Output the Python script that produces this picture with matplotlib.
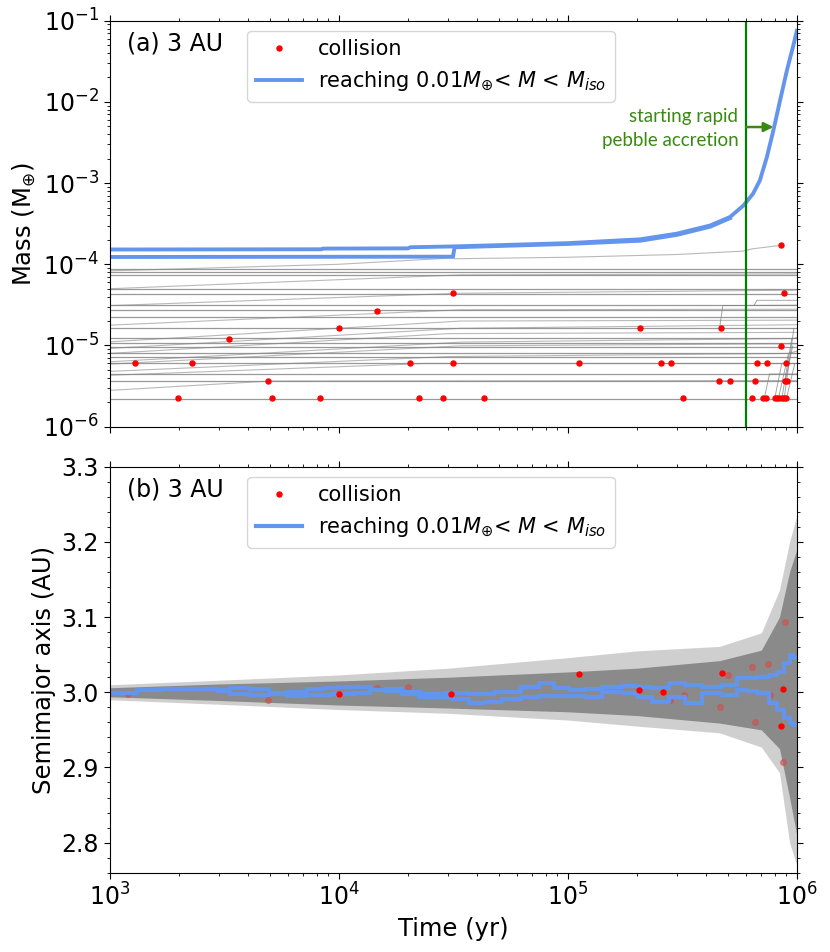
import numpy as np
import matplotlib
matplotlib.use('Agg')
import matplotlib.pyplot as plt
from matplotlib.ticker import MultipleLocator, NullFormatter

plt.rcParams['font.family'] = ['DejaVu Sans']
plt.rcParams['mathtext.fontset'] = 'dejavusans'

# ---- panel (a): mass tracks of planetesimals ----
# slowly growing tracks
grow_t = [
    [1e3, 5e3, 1e6],
    [1e3, 2.4e4, 1e6],
    [1e3, 3e4, 1e6],
    [1e3, 3.4e4, 1e6],
    [1e3, 3.4e4, 1e6],
    [1e3, 3e4, 1e6],
    [1e3, 3.4e4, 1e6],
    [1e3, 3.4e4, 1e6],
    [1e3, 3.4e4, 1e6],
    [1e3, 3.4e4, 1e6],
    [1e3, 3.4e4, 1e6],
    [1e3, 1e4, 3.2e4],
    [3.2e4, 1e5, 3e5, 5.8e5, 6.4e5, 8.5e5],
]
grow_m = [
    [2.8e-6, 3.65e-6, 3.7e-6],
    [4.3e-6, 6.0e-6, 6.0e-6],
    [4.8e-6, 7.3e-6, 8.0e-6],
    [5.9e-6, 9.9e-6, 1.05e-5],
    [6.3e-6, 1.1e-5, 1.22e-5],
    [8.0e-6, 1.4e-5, 1.45e-5],
    [9.2e-6, 1.63e-5, 1.8e-5],
    [1.11e-5, 2.0e-5, 2.05e-5],
    [1.78e-5, 2.75e-5, 2.8e-5],
    [3.1e-5, 4.4e-5, 4.8e-5],
    [5.0e-5, 7.4e-5, 7.6e-5],
    [8.3e-5, 1.0e-4, 1.2e-4],
    [1.17e-4, 1.22e-4, 1.32e-4, 1.45e-4, 1.55e-4, 1.71e-4],
]
# flat tracks (mass constant over the run)
flat_m = [8.8e-5, 8.1e-5, 7.3e-5, 5.0e-5, 4.36e-5, 3.13e-5, 2.72e-5, 2.24e-5,
          1.62e-5, 1.22e-5, 1.08e-5, 9.7e-6, 8.0e-6, 7.3e-6, 6.0e-6, 4.45e-6,
          3.65e-6, 2.2e-6]
# late, steep merging tracks
late_t = [
    [7.2e5, 7.6e5, 1e6],
    [8.0e5, 8.6e5, 1e6],
    [8.3e5, 9.2e5, 1e6],
    [8.6e5, 9.5e5, 1e6],
    [8.8e5, 9.7e5],
    [9.0e5, 9.8e5],
    [8.9e5, 9.6e5],
    [4.6e5, 4.75e5, 1e6],
    [6.5e5, 6.7e5, 1e6],
]
late_m = [
    [2.2e-6, 4.45e-6, 4.45e-6],
    [2.2e-6, 6.0e-6, 6.0e-6],
    [2.2e-6, 8e-6, 8.5e-6],
    [2.2e-6, 1.2e-5, 1.25e-5],
    [2.2e-6, 1.6e-5],
    [2.2e-6, 6e-6],
    [3.65e-6, 9.9e-6],
    [1.64e-5, 3.1e-5, 3.13e-5],
    [3.1e-5, 3.6e-5, 3.6e-5],
]

# blue: the two bodies reaching 0.01 M_earth < M < M_iso
blue1_t = [1e3, 8.4e3, 8.5e3, 2.0e4, 2.05e4, 3.2e4, 5e4, 1e5, 2.07e5, 2.99e5,
           4.18e5, 5.11e5, 5.85e5, 6.44e5, 6.9e5, 7.4e5, 7.9e5, 8.45e5, 9.05e5,
           9.7e5, 1e6]
blue1_m = [1.52e-4, 1.53e-4, 1.56e-4, 1.57e-4, 1.62e-4, 1.66e-4, 1.72e-4,
           1.82e-4, 2.03e-4, 2.38e-4, 3.0e-4, 3.82e-4, 5.3e-4, 7.4e-4, 1.08e-3,
           2.09e-3, 4.45e-3, 1.04e-2, 2.43e-2, 5.2e-2, 7.5e-2]
blue2_t = [1e3, 3.15e4, 3.2e4, 5e4, 1e5, 2.07e5, 2.99e5, 4.18e5, 5.11e5]
blue2_m = [1.23e-4, 1.24e-4, 1.62e-4, 1.68e-4, 1.78e-4, 1.95e-4, 2.3e-4,
           2.9e-4, 3.7e-4]

coll_t = [1.29e3, 1.98e3, 2.28e3, 3.31e3, 4.9e3, 5.1e3, 8.3e3, 1.0e4, 1.47e4,
          2.04e4, 2.24e4, 2.85e4, 3.16e4, 3.16e4, 4.3e4, 1.12e5, 2.07e5, 2.55e5,
          2.82e5, 3.18e5, 4.57e5, 4.67e5, 5.1e5, 6.4e5, 6.7e5, 6.6e5, 7.1e5,
          7.35e5, 7.4e5, 8.0e5, 8.2e5, 8.4e5, 8.6e5, 8.8e5, 9.0e5, 8.5e5, 8.8e5,
          8.5e5, 9.0e5, 8.9e5, 9.05e5]
coll_m = [6.1e-6, 2.26e-6, 6.1e-6, 1.2e-5, 3.65e-6, 2.26e-6, 2.26e-6, 1.64e-5,
          2.66e-5, 6.1e-6, 2.26e-6, 2.26e-6, 4.4e-5, 6.1e-6, 2.26e-6, 6.1e-6,
          1.64e-5, 6.1e-6, 6.1e-6, 2.26e-6, 3.65e-6, 1.64e-5, 3.65e-6, 2.26e-6,
          6.1e-6, 3.65e-6, 2.26e-6, 2.26e-6, 6.1e-6, 2.26e-6, 2.26e-6, 2.26e-6,
          2.26e-6, 2.26e-6, 2.26e-6, 1.73e-4, 4.4e-5, 9.9e-6, 6.1e-6, 3.65e-6,
          3.65e-6]

# ---- panel (b): semimajor axis spread of all bodies ----
env_t = [1e3, 3e3, 1e4, 3e4, 1e5, 2e5, 4.6e5, 7e5, 8.4e5, 9.3e5, 1e6]
core_hi = [3.006, 3.011, 3.015, 3.020, 3.027, 3.032, 3.042, 3.056, 3.10, 3.16, 3.19]
core_lo = [2.994, 2.989, 2.983, 2.979, 2.974, 2.969, 2.959, 2.950, 2.925, 2.86, 2.81]
out_hi = [3.010, 3.016, 3.023, 3.032, 3.046, 3.055, 3.061, 3.079, 3.136, 3.20, 3.235]
out_lo = [2.990, 2.984, 2.977, 2.972, 2.963, 2.955, 2.946, 2.927, 2.893, 2.80, 2.77]

a1_t = [1e3, 1.22e3, 1.40e3, 1.96e3, 2.74e3, 3.13e3, 3.57e3, 4.52e3, 5.35e3,
        6.53e3, 8.0e3, 9.15e3, 1.04e4, 1.28e4, 1.46e4, 1.73e4, 2.05e4, 2.5e4,
        3.38e4, 4.0e4, 5.59e4, 6.84e4, 8.09e4, 9.25e4, 1.09e5, 1.29e5, 1.53e5,
        1.92e5, 2.14e5, 2.53e5, 2.99e5, 3.53e5, 4.18e5, 5.11e5, 5.85e5, 6.25e5,
        7.15e5, 7.9e5, 8.45e5, 9.2e5, 9.5e5, 9.8e5]
a1_a = [2.9987, 2.9996, 3.0031, 3.0044, 3.004, 3.003, 3.0053, 3.004, 2.9996,
        3.0009, 3.004, 3.0062, 3.0075, 3.0075, 3.003, 3.004, 3.0009, 2.9978,
        2.9987, 2.9978, 3.0009, 3.0075, 3.012, 3.0053, 3.003, 3.004, 3.0075,
        3.0084, 3.0075, 3.0053, 3.012, 3.0098, 3.0075, 3.0098, 3.0186, 3.0186,
        3.0208, 3.023, 3.0275, 3.0386, 3.0496, 3.045]
a2_t = [1e3, 1.22e3, 1.40e3, 1.96e3, 2.74e3, 3.13e3, 3.57e3, 4.52e3, 5.35e3,
        6.53e3, 8.0e3, 1.04e4, 1.28e4, 1.46e4, 1.73e4, 2.05e4, 2.42e4, 2.86e4,
        3.38e4, 4.0e4, 4.73e4, 5.59e4, 6.84e4, 8.09e4, 1.09e5, 1.29e5, 1.53e5,
        1.92e5, 2.14e5, 2.53e5, 2.99e5, 3.53e5, 4.18e5, 5.11e5, 5.85e5, 6.25e5,
        7.15e5, 7.9e5, 8.45e5, 9.2e5, 9.5e5, 9.8e5]
a2_a = [2.9987, 2.9996, 3.0031, 3.0044, 3.004, 3.0022, 2.9978, 2.9965, 2.9978,
        2.9956, 2.9965, 2.9973, 2.9987, 3.003, 3.0022, 2.9978, 2.9934, 2.9934,
        2.9907, 2.9854, 2.9876, 2.9907, 2.9942, 2.9951, 2.9951, 2.9942, 3.0009,
        2.9987, 2.9942, 2.9876, 2.9942, 2.9854, 2.9987, 2.9965, 3.003, 3.0022,
        2.9987, 2.9854, 2.9765, 2.9654, 2.9588, 2.9566]

ca_t = [1.12e5, 4.7e5, 8.7e5, 8.5e5, 2.05e5, 3.1e4, 1e4, 2.6e5]
ca_a = [3.0245, 3.025, 3.004, 2.955, 3.003, 2.997, 2.997, 3.0]
ca_faint_t = [5.0e5, 6.4e5, 7.5e5, 8.9e5, 6.6e5, 4.6e5, 8.7e5, 3.2e5, 7.6e5,
              4.9e3, 1.47e4, 2.0e4, 1.2e3, 2.8e5]
ca_faint_a = [3.023, 3.033, 3.037, 3.093, 2.96, 2.98, 2.907, 2.996, 2.996,
              2.99, 3.005, 3.007, 2.997, 2.99]

blue = '#6495ED'
green_txt = '#3a8a12'
label_blue = r'reaching 0.01$M_{\oplus}$< $M$ < $M_{iso}$'

fig = plt.figure(figsize=(8.3, 9.52), dpi=100)
ax1 = fig.add_axes([0.1325, 0.5518, 0.8275, 0.4265])
ax2 = fig.add_axes([0.1325, 0.0833, 0.8275, 0.4265])

# ---- top panel ----
for t, m in zip(grow_t, grow_m):
    ax1.plot(t, m, color='gray', lw=0.8, alpha=0.55)
for m in flat_m:
    ax1.plot([1e3, 1e6], [m, m], color='gray', lw=0.9, alpha=0.8)
for t, m in zip(late_t, late_m):
    ax1.plot(t, m, color='gray', lw=0.7, alpha=0.7)
ax1.plot(blue2_t, blue2_m, color=blue, lw=2.8)
ax1.plot(blue1_t, blue1_m, color=blue, lw=2.8, label=label_blue)
ax1.plot(coll_t, coll_m, 'o', color='red', ms=3.6, ls='none', label='collision')

ax1.axvline(6e5, color='green', lw=1.6)
ax1.annotate('', xy=(7.9e5, 4.9e-3), xytext=(6.0e5, 4.9e-3),
             arrowprops=dict(arrowstyle='-|>', color=green_txt, lw=1.8,
                             mutation_scale=14, shrinkA=0, shrinkB=0))
ax1.text(5.55e5, 4.7e-3, 'starting rapid\npebble accretion', color=green_txt,
         ha='right', va='center', fontsize=13.5, family='Lato', linespacing=1.55)
ax1.text(0.025, 0.944, '(a) 3 AU', transform=ax1.transAxes, fontsize=17, va='center')

ax1.set_xscale('log')
ax1.set_yscale('log')
ax1.set_xlim(1e3, 1e6)
ax1.set_ylim(1e-6, 1e-1)
ax1.set_ylabel(r'Mass (M$_{\oplus}$)', fontsize=17.5)
ax1.xaxis.set_major_formatter(NullFormatter())
ax1.xaxis.set_minor_formatter(NullFormatter())

# ---- bottom panel ----
ax2.fill_between(env_t, out_lo, out_hi, color='#c4c4c4', lw=0, alpha=0.8)
ax2.fill_between(env_t, core_lo, core_hi, color='#8a8a8a', lw=0)
ax2.plot(ca_faint_t, ca_faint_a, 'o', color='#d05050', alpha=0.6, ms=4, ls='none')
ax2.plot(a1_t, a1_a, color=blue, lw=3, drawstyle='steps-mid', label=label_blue)
ax2.plot(a2_t, a2_a, color=blue, lw=3, drawstyle='steps-mid')
ax2.plot(ca_t, ca_a, 'o', color='red', ms=3.6, ls='none', label='collision')
ax2.text(0.025, 0.944, '(b) 3 AU', transform=ax2.transAxes, fontsize=17, va='center')

ax2.set_xscale('log')
ax2.set_xlim(1e3, 1e6)
ax2.set_ylim(2.76, 3.3)
ax2.yaxis.set_major_locator(MultipleLocator(0.1))
ax2.yaxis.set_minor_locator(MultipleLocator(0.02))
ax2.yaxis.set_major_formatter(plt.FuncFormatter(lambda v, _: f'{v:.1f}'))
ax2.set_xlabel('Time (yr)', fontsize=17.5)
ax2.set_ylabel('Semimajor axis (AU)', fontsize=17.5)

for ax in (ax1, ax2):
    ax.tick_params(which='both', top=True, right=True, direction='out', labelsize=17)
    ax.tick_params(which='major', length=4.5)
    ax.tick_params(which='minor', length=2.5)
    handles, labels = ax.get_legend_handles_labels()
    order = [labels.index('collision'), labels.index(label_blue)]
    ax.legend([handles[i] for i in order], [labels[i] for i in order],
              loc='upper left', bbox_to_anchor=(0.2, 0.975), borderaxespad=0,
              fontsize=15, numpoints=1, handlelength=2.2)

fig.savefig('out.png', dpi=100)
